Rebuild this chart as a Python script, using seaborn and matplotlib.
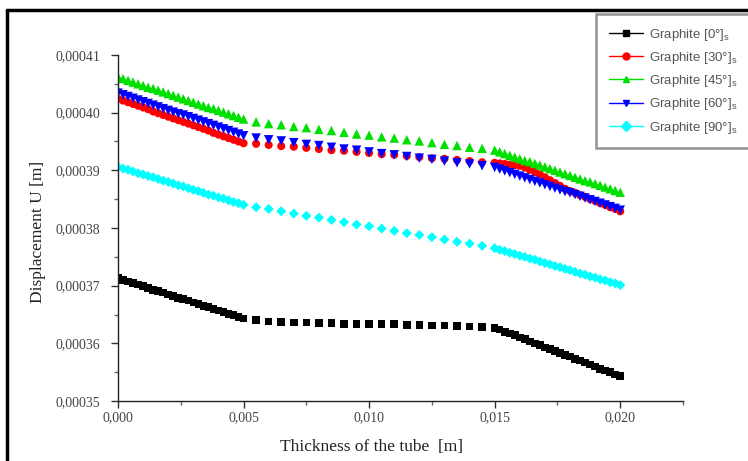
import matplotlib
matplotlib.use("Agg")
import matplotlib.pyplot as plt
from matplotlib.lines import Line2D
from matplotlib.ticker import FuncFormatter, MultipleLocator
import pandas as pd
import seaborn as sns
import numpy as np

# espessura do tubo [m]: camada 1 (malha fina), camada 2 (malha grossa), camada 3 (malha fina)
espessura = [
    0.0000, 0.0002, 0.0004, 0.0006, 0.0008, 0.0010, 0.0012, 0.0014, 0.0016, 0.0018,
    0.0020, 0.0022, 0.0024, 0.0026, 0.0028, 0.0030, 0.0032, 0.0034, 0.0036, 0.0038,
    0.0040, 0.0042, 0.0044, 0.0046, 0.0048, 0.0050,
    0.0055, 0.0060, 0.0065, 0.0070, 0.0075, 0.0080, 0.0085, 0.0090, 0.0095, 0.0100,
    0.0105, 0.0110, 0.0115, 0.0120, 0.0125, 0.0130, 0.0135, 0.0140, 0.0145, 0.0150,
    0.0152, 0.0154, 0.0156, 0.0158, 0.0160, 0.0162, 0.0164, 0.0166, 0.0168, 0.0170,
    0.0172, 0.0174, 0.0176, 0.0178, 0.0180, 0.0182, 0.0184, 0.0186, 0.0188, 0.0190,
    0.0192, 0.0194, 0.0196, 0.0198, 0.0200,
]

# deslocamento U [m]
u_0 = [
    0.0003713, 0.0003710, 0.0003707, 0.0003705, 0.0003702, 0.0003699, 0.0003696, 0.0003693, 0.0003691, 0.0003688,
    0.0003685, 0.0003682, 0.0003679, 0.0003677, 0.0003674, 0.0003671, 0.0003668, 0.0003665, 0.0003663, 0.0003660,
    0.0003657, 0.0003654, 0.0003651, 0.0003649, 0.0003646, 0.0003643,
    0.0003640, 0.0003638, 0.0003637, 0.0003636, 0.0003636, 0.0003635, 0.0003635, 0.0003634, 0.0003634, 0.0003634,
    0.0003633, 0.0003633, 0.0003632, 0.0003632, 0.0003631, 0.0003631, 0.0003630, 0.0003629, 0.0003628, 0.0003627,
    0.0003624, 0.0003620, 0.0003617, 0.0003614, 0.0003610, 0.0003607, 0.0003603, 0.0003600, 0.0003597, 0.0003593,
    0.0003590, 0.0003587, 0.0003583, 0.0003580, 0.0003577, 0.0003573, 0.0003570, 0.0003567, 0.0003563, 0.0003560,
    0.0003556, 0.0003553, 0.0003550, 0.0003546, 0.0003543,
]
u_30 = [
    0.0004024, 0.0004021, 0.0004018, 0.0004015, 0.0004012, 0.0004009, 0.0004006, 0.0004002, 0.0003999, 0.0003996,
    0.0003993, 0.0003990, 0.0003987, 0.0003984, 0.0003981, 0.0003978, 0.0003975, 0.0003972, 0.0003969, 0.0003965,
    0.0003962, 0.0003959, 0.0003956, 0.0003953, 0.0003950, 0.0003947,
    0.0003946, 0.0003944, 0.0003942, 0.0003941, 0.0003939, 0.0003937, 0.0003935, 0.0003934, 0.0003932, 0.0003930,
    0.0003928, 0.0003927, 0.0003925, 0.0003923, 0.0003921, 0.0003920, 0.0003918, 0.0003916, 0.0003914, 0.0003913,
    0.0003912, 0.0003911, 0.0003910, 0.0003909, 0.0003908, 0.0003905, 0.0003901, 0.0003897, 0.0003893, 0.0003888,
    0.0003883, 0.0003878, 0.0003873, 0.0003868, 0.0003864, 0.0003861, 0.0003857, 0.0003854, 0.0003850, 0.0003847,
    0.0003843, 0.0003840, 0.0003836, 0.0003833, 0.0003829,
]
u_45 = [
    0.0004062, 0.0004059, 0.0004056, 0.0004053, 0.0004050, 0.0004047, 0.0004044, 0.0004042, 0.0004039, 0.0004036,
    0.0004033, 0.0004030, 0.0004027, 0.0004024, 0.0004021, 0.0004018, 0.0004015, 0.0004012, 0.0004009, 0.0004007,
    0.0004004, 0.0004001, 0.0003998, 0.0003995, 0.0003992, 0.0003989,
    0.0003984, 0.0003981, 0.0003979, 0.0003976, 0.0003974, 0.0003971, 0.0003969, 0.0003966, 0.0003963, 0.0003961,
    0.0003958, 0.0003956, 0.0003953, 0.0003951, 0.0003948, 0.0003945, 0.0003943, 0.0003940, 0.0003938, 0.0003935,
    0.0003932, 0.0003929, 0.0003926, 0.0003923, 0.0003920, 0.0003917, 0.0003915, 0.0003912, 0.0003909, 0.0003906,
    0.0003903, 0.0003900, 0.0003897, 0.0003894, 0.0003891, 0.0003888, 0.0003885, 0.0003882, 0.0003880, 0.0003877,
    0.0003874, 0.0003871, 0.0003868, 0.0003865, 0.0003862,
]
u_60 = [
    0.0004034, 0.0004031, 0.0004028, 0.0004025, 0.0004022, 0.0004019, 0.0004016, 0.0004013, 0.0004010, 0.0004007,
    0.0004004, 0.0004001, 0.0003998, 0.0003996, 0.0003993, 0.0003990, 0.0003987, 0.0003984, 0.0003981, 0.0003978,
    0.0003975, 0.0003972, 0.0003969, 0.0003966, 0.0003963, 0.0003960,
    0.0003956, 0.0003953, 0.0003951, 0.0003948, 0.0003945, 0.0003943, 0.0003940, 0.0003937, 0.0003935, 0.0003932,
    0.0003929, 0.0003927, 0.0003924, 0.0003921, 0.0003919, 0.0003916, 0.0003913, 0.0003911, 0.0003908, 0.0003905,
    0.0003902, 0.0003899, 0.0003896, 0.0003893, 0.0003890, 0.0003887, 0.0003884, 0.0003881, 0.0003878, 0.0003875,
    0.0003872, 0.0003869, 0.0003866, 0.0003863, 0.0003861, 0.0003858, 0.0003855, 0.0003852, 0.0003849, 0.0003846,
    0.0003843, 0.0003840, 0.0003837, 0.0003834, 0.0003831,
]
u_90 = [
    0.0003906, 0.0003903, 0.0003901, 0.0003898, 0.0003895, 0.0003893, 0.0003890, 0.0003888, 0.0003885, 0.0003882,
    0.0003880, 0.0003877, 0.0003874, 0.0003872, 0.0003869, 0.0003866, 0.0003864, 0.0003861, 0.0003858, 0.0003856,
    0.0003853, 0.0003851, 0.0003848, 0.0003845, 0.0003843, 0.0003840,
    0.0003836, 0.0003833, 0.0003829, 0.0003825, 0.0003821, 0.0003818, 0.0003814, 0.0003810, 0.0003806, 0.0003803,
    0.0003799, 0.0003795, 0.0003791, 0.0003788, 0.0003784, 0.0003780, 0.0003776, 0.0003773, 0.0003769, 0.0003765,
    0.0003762, 0.0003760, 0.0003757, 0.0003755, 0.0003752, 0.0003750, 0.0003747, 0.0003745, 0.0003742, 0.0003739,
    0.0003737, 0.0003734, 0.0003732, 0.0003729, 0.0003727, 0.0003724, 0.0003721, 0.0003719, 0.0003716, 0.0003714,
    0.0003711, 0.0003709, 0.0003706, 0.0003704, 0.0003701,
]

rotulos = [r"Graphite [0°]$_s$", r"Graphite [30°]$_s$", r"Graphite [45°]$_s$",
           r"Graphite [60°]$_s$", r"Graphite [90°]$_s$"]
series = [u_0, u_30, u_45, u_60, u_90]

# ==============================================================================
# PROCESSAMENTO
# ==============================================================================
df = pd.concat(
    [pd.DataFrame({"x": espessura, "u": s, "caso": r}) for r, s in zip(rotulos, series)],
    ignore_index=True,
)

# ==============================================================================
# GRAFICO
# ==============================================================================
sns.set_style("white")
plt.rcParams["mathtext.default"] = "regular"

cores = dict(zip(rotulos, ["#000000", "#ff0000", "#00e000", "#0000ff", "#00ffff"]))
marcadores = dict(zip(rotulos, ["s", "o", "^", "v", "D"]))
tamanhos = dict(zip(rotulos, [30, 34, 46, 46, 26]))

fig = plt.figure(figsize=(7.48, 4.61), dpi=100)
ax = fig.add_axes([118 / 748, 60 / 461, 565 / 748, 346 / 461])

for r in rotulos:
    sub = df[df["caso"] == r]
    sns.scatterplot(data=sub, x="x", y="u", color=cores[r], marker=marcadores[r],
                    s=tamanhos[r], edgecolor="none", linewidth=0, ax=ax, legend=False)

ax.set_xlim(0, 0.0225)
ax.set_ylim(0.00035, 0.00041)
ax.xaxis.set_major_locator(MultipleLocator(0.005))
ax.xaxis.set_minor_locator(MultipleLocator(0.0025))
ax.yaxis.set_major_locator(MultipleLocator(0.00001))
ax.yaxis.set_minor_locator(MultipleLocator(0.000005))
ax.xaxis.set_major_formatter(FuncFormatter(lambda v, p: f"{v:.3f}".replace(".", ",")))
ax.yaxis.set_major_formatter(FuncFormatter(lambda v, p: f"{v:.5f}".replace(".", ",")))

for lado in ["top", "right"]:
    ax.spines[lado].set_visible(False)
for lado in ["left", "bottom"]:
    ax.spines[lado].set_color("#222222")
    ax.spines[lado].set_linewidth(1.0)

ax.tick_params(which="major", direction="out", length=5, width=1, color="#333333",
               left=True, bottom=True, labelsize=10, labelcolor="#444444")
ax.tick_params(which="minor", direction="out", length=3, width=1, color="#666666",
               left=True, bottom=True)
ax.tick_params(axis="y", which="major", pad=8)
ax.tick_params(axis="x", which="major", pad=2)
for t in ax.get_xticklabels() + ax.get_yticklabels():
    t.set_family("Liberation Serif")

ax.set_xlabel("Thickness of the tube  [m]", family="Liberation Serif", fontsize=12.5,
              color="#222222")
ax.set_ylabel("Displacement U [m]", family="Liberation Serif", fontsize=12.5,
              color="#222222")
ax.xaxis.set_label_coords((371 - 118) / 565, (401 - 447) / 346)
ax.xaxis.label.set_va("center")
ax.yaxis.set_label_coords((38 - 118) / 565, (401 - 232) / 346)
ax.yaxis.label.set_va("center")

handles = [Line2D([], [], color=cores[r], marker=marcadores[r], markersize=5,
                  linewidth=1.0) for r in rotulos]
leg = ax.legend(handles, rotulos, loc="upper left",
                bbox_to_anchor=(596 / 748, 1 - 14 / 461), bbox_transform=fig.transFigure,
                frameon=True, fancybox=False, prop={"family": "Liberation Sans", "size": 9.5},
                handlelength=2.6, labelspacing=0.55, borderpad=0.95, handletextpad=0.5,
                borderaxespad=0)
leg.get_frame().set_edgecolor("#777777")
leg.get_frame().set_linewidth(1.8)
for t in leg.get_texts():
    t.set_color("#555555")

# moldura externa da figura
fig.add_artist(Line2D([7 / 748, 7 / 748], [0, 1 - 10 / 461], transform=fig.transFigure,
                      color="black", linewidth=2.5))
fig.add_artist(Line2D([7 / 748, 1], [1 - 10 / 461, 1 - 10 / 461], transform=fig.transFigure,
                      color="black", linewidth=2.5))

fig.savefig("out.png", dpi=100)
